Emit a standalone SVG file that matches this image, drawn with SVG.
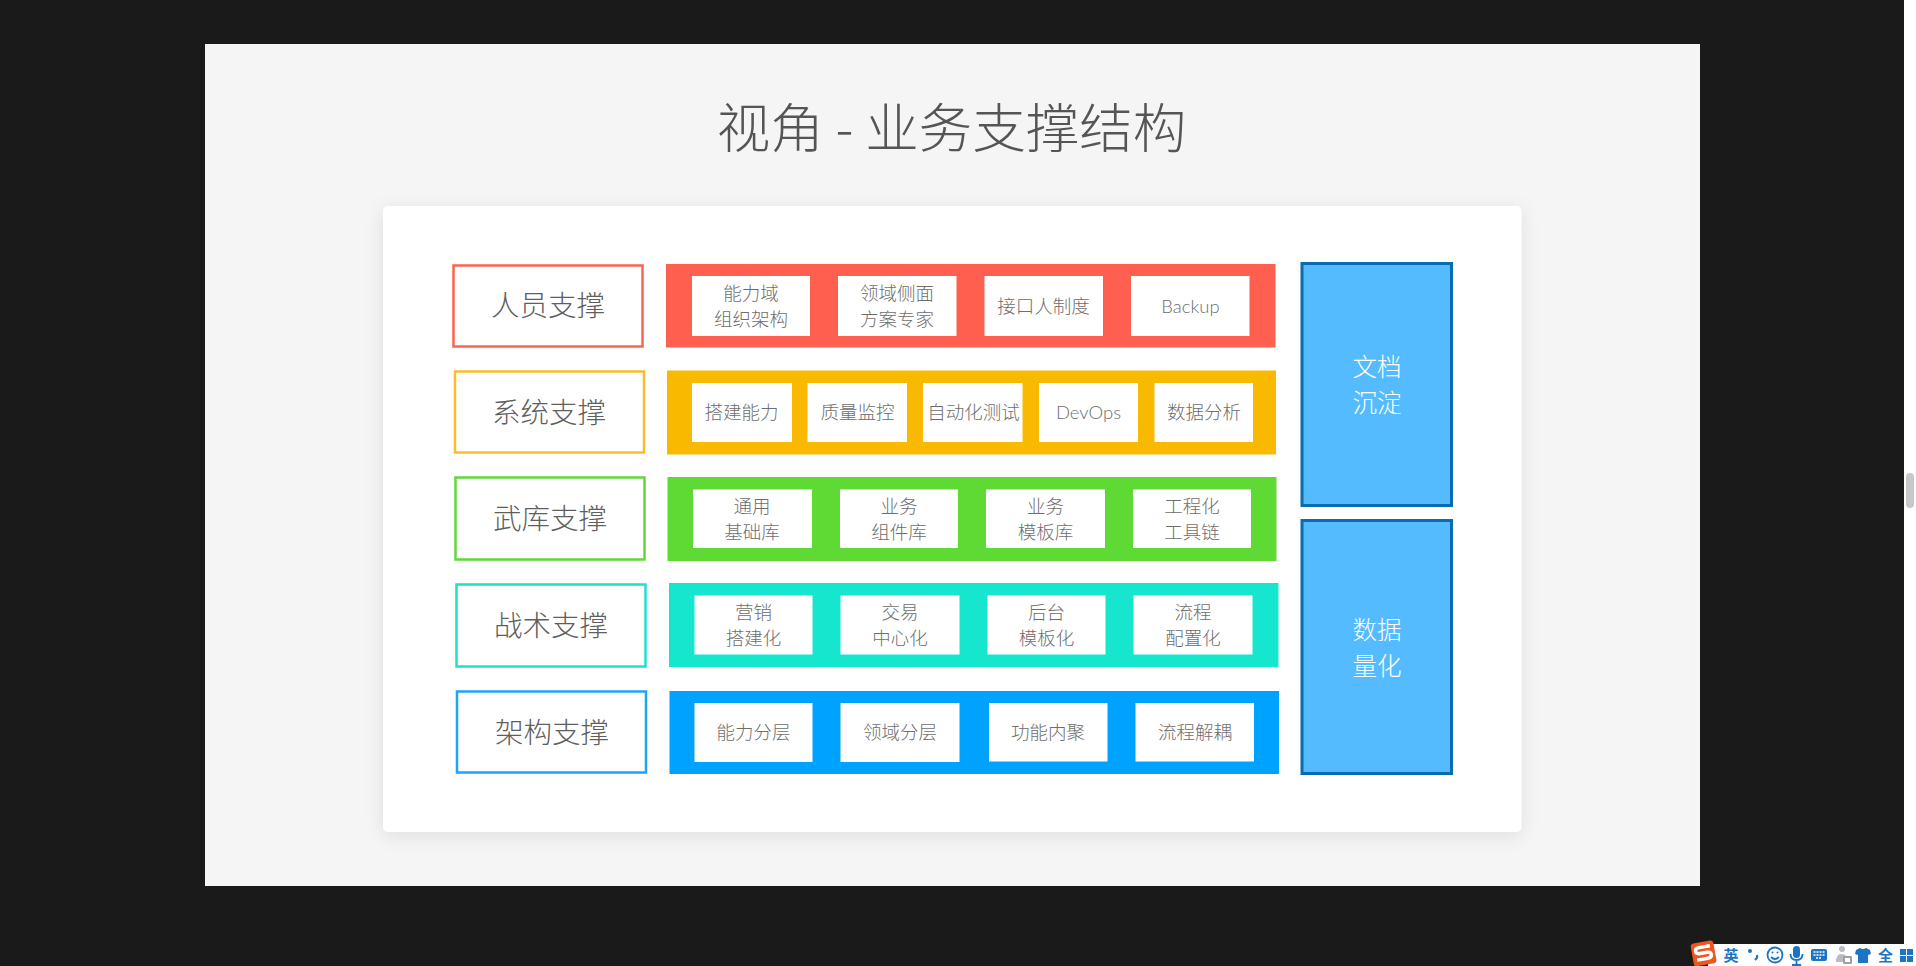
<svg xmlns="http://www.w3.org/2000/svg" width="1916" height="966" viewBox="0 0 1916 966">
<style>
text{font-family:"Noto Sans CJK SC","Noto Sans",sans-serif;text-anchor:middle;font-weight:300}
.lbl{font-size:28.500px;fill:#5f5f5f}
.in{font-size:18.500px;fill:#6e6e6e}
.lat{font-family:"Lato","Noto Sans CJK SC",sans-serif;font-size:18.500px;fill:#6e6e6e;font-weight:300}
.side{font-size:24.500px;fill:#fff}
.box{fill:#fff;stroke-width:2.500}
.cell{fill:#fff}
.blue{fill:#54bbff;stroke:#0a6cb0;stroke-width:3}
.tray{fill:#1b74c4}
</style>
<defs>
<filter id="sh" x="-5%" y="-8%" width="110%" height="116%"><feDropShadow dx="0" dy="4" stdDeviation="9" flood-color="#000" flood-opacity="0.09"/></filter>
</defs>
<rect width="1916" height="966" fill="#1a1a1a"/>
<rect x="1904" width="12" height="966" fill="#fff"/>
<rect x="1906" y="473" width="8" height="35" rx="4" fill="#c8c8c8"/>
<rect x="205" y="44" width="1495" height="842" fill="#f5f5f5"/>
<text x="951.500" y="147.500" font-size="53.500" fill="#555">视角 - 业务支撑结构</text>
<rect x="383" y="206" width="1138.500" height="626" rx="5" fill="#fff" filter="url(#sh)"/>
<g id="connectors"/>

<g id="row-people">
<rect class="box" x="453.500" y="265.500" width="189" height="81" stroke="#fb6450"/>
<text class="lbl" x="548" y="316">人员支撑</text>
<rect x="666" y="264" width="609.500" height="83.500" fill="#fe5f4e"/>
<rect class="cell" x="692" y="276" width="118" height="60"/>
<text class="in" x="751" y="300">能力域</text><text class="in" x="751" y="326">组织架构</text>
<rect class="cell" x="838" y="276" width="118.500" height="60"/>
<text class="in" x="897" y="300">领域侧面</text><text class="in" x="897" y="326">方案专家</text>
<rect class="cell" x="984.500" y="276" width="118.500" height="60"/>
<text class="in" x="1043.500" y="313">接口人制度</text>
<rect class="cell" x="1131" y="276" width="118.500" height="60"/>
<text class="lat" x="1190.500" y="313">Backup</text>
</g>

<g id="row-system">
<rect class="box" x="455" y="371.500" width="189" height="81" stroke="#fbbc2c"/>
<text class="lbl" x="549" y="423">系统支撑</text>
<rect x="667" y="370.500" width="609" height="84" fill="#f9b900"/>
<rect class="cell" x="692" y="383" width="100" height="59"/>
<text class="in" x="741.500" y="419">搭建能力</text>
<rect class="cell" x="807.500" y="383" width="99.500" height="59"/>
<text class="in" x="857.500" y="419">质量监控</text>
<rect class="cell" x="923" y="383" width="99.500" height="59"/>
<text class="in" x="973.500" y="419">自动化测试</text>
<rect class="cell" x="1039" y="383" width="99" height="59"/>
<text class="lat" x="1088.500" y="419">DevOps</text>
<rect class="cell" x="1154.500" y="383" width="98.500" height="59"/>
<text class="in" x="1204" y="419">数据分析</text>
</g>

<g id="row-arsenal">
<rect class="box" x="455.500" y="477.500" width="189" height="82" stroke="#60d83a"/>
<text class="lbl" x="550" y="529">武库支撑</text>
<rect x="667.500" y="477" width="609" height="84" fill="#5fd934"/>
<rect class="cell" x="693" y="489.500" width="119" height="58.500"/>
<text class="in" x="752" y="513">通用</text><text class="in" x="752" y="539">基础库</text>
<rect class="cell" x="840" y="489.500" width="118" height="58.500"/>
<text class="in" x="899" y="513">业务</text><text class="in" x="899" y="539">组件库</text>
<rect class="cell" x="986" y="489.500" width="119" height="58.500"/>
<text class="in" x="1045.500" y="513">业务</text><text class="in" x="1045.500" y="539">模板库</text>
<rect class="cell" x="1133" y="489.500" width="118" height="58.500"/>
<text class="in" x="1192" y="513">工程化</text><text class="in" x="1192" y="539">工具链</text>
</g>

<g id="row-tactics">
<rect class="box" x="456.500" y="584.500" width="189" height="82" stroke="#20e0cc"/>
<text class="lbl" x="551" y="636">战术支撑</text>
<rect x="669" y="583" width="609.500" height="84" fill="#16e6ce"/>
<rect class="cell" x="694.500" y="595.500" width="118" height="59"/>
<text class="in" x="753.500" y="619">营销</text><text class="in" x="753.500" y="645">搭建化</text>
<rect class="cell" x="840.500" y="595.500" width="119" height="59"/>
<text class="in" x="900" y="619">交易</text><text class="in" x="900" y="645">中心化</text>
<rect class="cell" x="987.500" y="595.500" width="118" height="59"/>
<text class="in" x="1046.500" y="619">后台</text><text class="in" x="1046.500" y="645">模板化</text>
<rect class="cell" x="1133.500" y="595.500" width="119" height="59"/>
<text class="in" x="1193" y="619">流程</text><text class="in" x="1193" y="645">配置化</text>
</g>

<g id="row-architecture">
<rect class="box" x="457" y="691.500" width="189" height="81" stroke="#1ea4f8"/>
<text class="lbl" x="552" y="743">架构支撑</text>
<rect x="669.500" y="691" width="609.500" height="83" fill="#00a2ff"/>
<rect class="cell" x="694.500" y="703" width="118" height="59"/>
<text class="in" x="753.500" y="739">能力分层</text>
<rect class="cell" x="840.500" y="703" width="119" height="59"/>
<text class="in" x="900" y="739">领域分层</text>
<rect class="cell" x="989" y="703" width="118.500" height="58.500"/>
<text class="in" x="1048" y="739">功能内聚</text>
<rect class="cell" x="1135.500" y="703" width="118.500" height="58.500"/>
<text class="in" x="1195" y="739">流程解耦</text>
</g>

<g id="side-docs">
<rect class="blue" x="1302" y="263.500" width="149.500" height="242"/>
<text class="side" x="1377" y="376">文档</text><text class="side" x="1377" y="412">沉淀</text>
</g>
<g id="side-data">
<rect class="blue" x="1302" y="520.500" width="149.500" height="253"/>
<text class="side" x="1377" y="639">数据</text><text class="side" x="1377" y="675">量化</text>
</g>

<g id="tray">
<rect x="1708" y="944" width="208" height="22" fill="#fff"/>
<g transform="rotate(-10 1703 953)">
<rect x="1692" y="942" width="23" height="23" rx="3" fill="#f0561d"/>
<path d="M1711 947h-11q-4 0-4 3t4 3h7q4 0 4 3t-4 3h-11" fill="none" stroke="#fff" stroke-width="3.500"/>
</g>
<text x="1731" y="961" font-size="15" fill="#1b74c4" style="font-weight:700">英</text>
<circle class="tray" cx="1750" cy="951" r="2"/>
<path d="M1757 955q1 3-2 5" fill="none" stroke="#1b74c4" stroke-width="2"/>
<g fill="none" stroke="#1b74c4" stroke-width="1.800">
<circle cx="1775" cy="955" r="7.500"/>
<path d="M1771 957q4 4 8 0"/>
</g>
<circle class="tray" cx="1772.500" cy="952.500" r="1"/><circle class="tray" cx="1777.500" cy="952.500" r="1"/>
<rect class="tray" x="1793" y="946" width="7" height="12" rx="3.500"/>
<path d="M1790.500 954q0 6 6 6t6-6M1796.500 960v4M1792 965h9" fill="none" stroke="#1b74c4" stroke-width="1.800"/>
<rect class="tray" x="1811" y="949" width="16" height="12" rx="2"/>
<path d="M1813.500 952h11M1813.500 955h11M1816 958h6" stroke="#fff" stroke-width="1.500" stroke-dasharray="2 1" fill="none"/>
<circle cx="1842" cy="949" r="3" fill="#b9bcc0"/>
<path d="M1836 962q0-8 5-8t5 3v5z" fill="#b9bcc0"/>
<rect x="1843" y="956" width="9" height="8" rx="1" fill="#9da1a6"/>
<rect x="1845" y="958" width="5" height="4" fill="#fff"/>
<path class="tray" d="M1856 950l4-2q3 2 6 0l4 2 1 4-3 1v8h-10v-8l-3-1z"/>
<text x="1885.500" y="961" font-size="15" fill="#1b74c4" style="font-weight:700">全</text>
<rect class="tray" x="1900" y="949" width="6" height="6"/><rect class="tray" x="1907" y="949" width="6" height="6"/>
<rect class="tray" x="1900" y="956" width="6" height="6"/><rect class="tray" x="1907" y="956" width="6" height="6"/>
</g>
</svg>
